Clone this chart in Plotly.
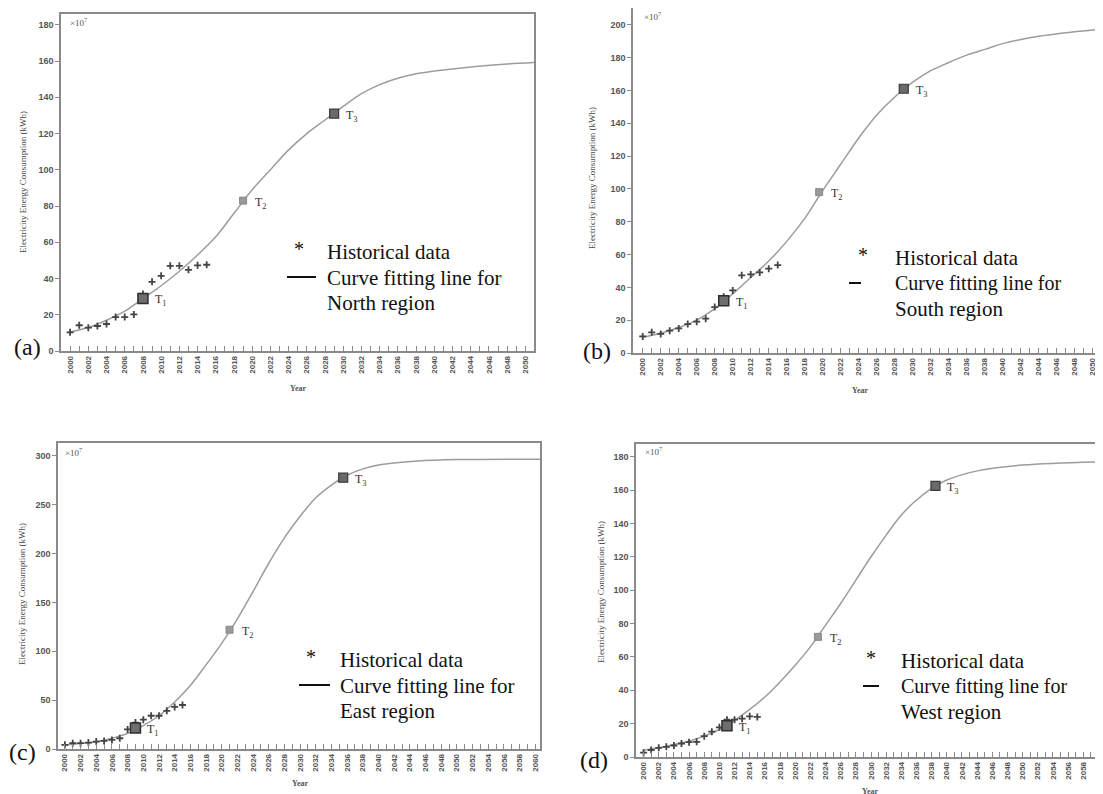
import plotly.graph_objects as go

W, H = 1103, 794
OFF = 8  # default page body margin: the figure starts 8px right and down

# ---------------- data ----------------
hist_years = list(range(2000, 2016))

hist_a = [10.3, 14.2, 12.9, 13.8, 14.9, 18.7, 18.7, 20.2, 31.4, 38.2, 41.5, 47.0, 47.0, 44.8, 47.3, 47.6]
hist_b = [10.1, 12.6, 11.6, 13.6, 15.0, 17.6, 19.1, 20.9, 28.0, 34.3, 38.1, 47.3, 47.9, 49.1, 51.4, 53.6]
hist_c = [4.3, 6.0, 6.0, 6.6, 7.6, 8.3, 9.3, 11.0, 20.0, 27.0, 30.0, 34.0, 34.0, 39.0, 43.0, 45.0]
hist_d = [2.6, 4.2, 5.5, 6.1, 6.9, 8.1, 8.9, 9.1, 12.5, 15.2, 17.8, 22.4, 22.4, 23.0, 24.4, 24.0]

curve_years_a = [1999.8, 2002, 2004, 2006, 2008, 2010, 2012, 2014, 2016, 2018, 2020, 2022, 2024, 2026,
                 2028, 2030, 2032, 2034, 2036, 2038, 2040, 2044, 2048, 2050.95]
curve_a = [10.3, 13.0, 17.0, 22.0, 29.0, 36.0, 44.0, 53.0, 63.0, 76.0, 89.0, 100.0, 111.0, 120.0,
           127.5, 135.0, 142.0, 147.0, 150.5, 153.0, 154.5, 156.8, 158.4, 159.2]

curve_years_b = [1999.9, 2002, 2004, 2006, 2008, 2010, 2012, 2014, 2016, 2018, 2020, 2022, 2024, 2026,
                 2028, 2030, 2032, 2034, 2036, 2038, 2040, 2044, 2050.25]
curve_b = [9.5, 12.0, 15.5, 20.0, 27.0, 36.0, 46.0, 56.0, 68.0, 82.0, 99.0, 115.0, 131.0, 145.0,
           156.0, 165.0, 172.0, 177.0, 181.5, 185.0, 188.5, 193.0, 197.0]

curve_years_c = [1999.9, 2002, 2004, 2006, 2008, 2010, 2012, 2014, 2016, 2018, 2020, 2022, 2024, 2026,
                 2028, 2030, 2032, 2034, 2036, 2038, 2040, 2045, 2050, 2060.6]
curve_c = [4.0, 5.5, 7.5, 11.0, 16.0, 24.0, 34.0, 48.0, 65.0, 86.0, 108.0, 133.0, 161.0, 190.0,
           216.0, 238.0, 257.0, 270.0, 280.0, 286.5, 290.5, 294.5, 296.0, 296.5]

curve_years_d = [1999.9, 2002, 2004, 2006, 2008, 2010, 2012, 2014, 2016, 2018, 2020, 2022, 2024, 2026,
                 2028, 2030, 2032, 2034, 2036, 2038, 2040, 2044, 2050, 2060.6]
curve_d = [4.0, 5.5, 7.5, 9.5, 12.5, 16.5, 22.0, 28.5, 36.0, 45.0, 55.0, 66.0, 79.0, 92.0,
           106.0, 120.0, 133.0, 145.0, 154.0, 161.0, 166.0, 171.5, 175.0, 177.0]

t_labels = ["1", "2", "3"]
t_years_a = [2008, 2019, 2029]
t_vals_a = [29.0, 83.0, 131.0]
t_years_b = [2009, 2019.6, 2029]
t_vals_b = [31.9, 98.0, 161.0]
t_years_c = [2009, 2021, 2035.5]
t_vals_c = [21.5, 122.0, 277.5]
t_years_d = [2011, 2023, 2038.5]
t_vals_d = [18.8, 72.0, 162.5]

y_ticks_a = [0, 20, 40, 60, 80, 100, 120, 140, 160, 180]
y_ticks_b = [0, 20, 40, 60, 80, 100, 120, 140, 160, 180, 200]
y_ticks_c = [0, 50, 100, 150, 200, 250, 300]
y_ticks_d = [0, 20, 40, 60, 80, 100, 120, 140, 160, 180]

regions = ["North", "South", "East", "West"]
panel_tags = ["(a)", "(b)", "(c)", "(d)"]

# ---------------- layout geometry (pixels in the page) ----------------
panels = [
    dict(px=(61, 534), py=(14, 351), xr=(1999.0, 2050.95), yr=(0, 186), xmax=2050),
    dict(px=(633, 1095), py=(8, 353), xr=(1998.92, 2050.25), yr=(0, 210.2), xmax=2050),
    dict(px=(58, 540), py=(443, 749), xr=(1999.12, 2060.6), yr=(0, 313), xmax=2060),
    dict(px=(636, 1103), py=(444, 757), xr=(1999.0, 2060.6), yr=(0, 187.6), xmax=2060),
]

hist_all = [hist_a, hist_b, hist_c, hist_d]
cy_all = [curve_years_a, curve_years_b, curve_years_c, curve_years_d]
cv_all = [curve_a, curve_b, curve_c, curve_d]
ty_all = [t_years_a, t_years_b, t_years_c, t_years_d]
tv_all = [t_vals_a, t_vals_b, t_vals_c, t_vals_d]
yt_all = [y_ticks_a, y_ticks_b, y_ticks_c, y_ticks_d]

FW, FH = W - OFF, H - OFF

def fx(p):
    return (p - OFF) / FW

def fy(p):
    return 1 - (p - OFF) / FH

AX = "#8a8a8a"
XTICKFONT = dict(family="Liberation Sans, Arial", size=8, color="#555555", weight="bold")
YTICKFONT = dict(family="Liberation Sans, Arial", size=9, color="#555555", weight="bold")
SERIF = "Liberation Serif, Times New Roman, serif"

fig = go.Figure()
layout = dict(
    width=FW, height=FH, margin=dict(l=0, r=0, t=0, b=0, autoexpand=False),
    paper_bgcolor="white", plot_bgcolor="white", showlegend=False,
)
annotations = []
shapes = []

t_styles = [
    dict(size=10, color="#6e6e6e", line=dict(color="#2e2e2e", width=1.5)),
    dict(size=7, color="#9a9a9a", line=dict(color="#8a8a8a", width=1)),
    dict(size=9, color="#6a6a6a", line=dict(color="#3a3a3a", width=1.2)),
]

legend_pos = [
    dict(sx=299, tx=325, y1=252, lx=(287, 316)),
    dict(sx=863, tx=893, y1=258, lx=(849, 861)),
    dict(sx=311, tx=338, y1=660, lx=(299, 330)),
    dict(sx=871, tx=899, y1=661, lx=(863, 879)),
]
tag_pos = [(27, 347), (597, 351), (22, 752), (594, 760)]
year_pos = [(298, 388), (860, 391), (300, 783), (870, 791)]
ytitle_pos = [(23, 182), (592, 178), (22, 594), (601, 592)]
x10_pos = [(68, 22), (642, 16), (63, 452), (643, 451)]

for i, p in enumerate(panels):
    n = "" if i == 0 else str(i + 1)
    xa, ya = "x" + n, "y" + n
    xticks = list(range(2000, p["xmax"] + 1, 2))
    layout["xaxis" + n] = dict(
        domain=[fx(p["px"][0]), min(1.0, fx(p["px"][1]))], range=list(p["xr"]), anchor=ya,
        automargin=False, ticklabeloverflow="allow",
        showline=True, linecolor=AX, linewidth=1.5, mirror=True,
        showgrid=False, zeroline=False,
        tickmode="array", tickvals=xticks, ticktext=[str(v) for v in xticks],
        ticks="inside", ticklen=5, tickcolor=AX, tickwidth=1,
        minor=dict(tickmode="linear", tick0=2001, dtick=2, ticks="inside", ticklen=5, tickcolor=AX, tickwidth=1),
        tickangle=-90, tickfont=XTICKFONT,
    )
    layout["yaxis" + n] = dict(
        domain=[max(0.0, fy(p["py"][1])), min(1.0, fy(p["py"][0]))], range=list(p["yr"]), anchor=xa,
        automargin=False, ticklabeloverflow="allow",
        showline=True, linecolor=AX, linewidth=1.5, mirror=True,
        showgrid=False, zeroline=False,
        tickmode="array", tickvals=yt_all[i], ticktext=[str(v) for v in yt_all[i]],
        ticks="outside", ticklen=4, tickcolor=AX, tickwidth=1,
        tickfont=YTICKFONT,
    )

    # fitted curve
    fig.add_trace(go.Scatter(
        x=cy_all[i], y=cv_all[i], mode="lines", xaxis=xa, yaxis=ya,
        line=dict(color="#9c9c9c", width=1.5, shape="spline", smoothing=1.0),
        hoverinfo="skip",
    ))
    # historical data
    fig.add_trace(go.Scatter(
        x=hist_years, y=hist_all[i], mode="markers", xaxis=xa, yaxis=ya,
        marker=dict(symbol="cross-thin", size=5, line=dict(color="#444444", width=1.8)),
        hoverinfo="skip",
    ))
    # turning points
    for k in range(3):
        fig.add_trace(go.Scatter(
            x=[ty_all[i][k]], y=[tv_all[i][k]], mode="markers", xaxis=xa, yaxis=ya,
            marker=dict(symbol="square", **t_styles[k]),
            hoverinfo="skip",
        ))
        annotations.append(dict(
            x=ty_all[i][k], y=tv_all[i][k], xref=xa, yref=ya, xanchor="left", yanchor="middle",
            xshift=10, yshift=-2, showarrow=False,
            text="T<sub>" + t_labels[k] + "</sub>",
            font=dict(family=SERIF, size=12, color="#333333"),
        ))

    annotations.append(dict(
        x=fx(x10_pos[i][0]), y=fy(x10_pos[i][1]), xref="paper", yref="paper",
        xanchor="left", yanchor="middle", showarrow=False,
        text="\u00d710<sup>7</sup>", font=dict(family=SERIF, size=9, color="#555555"),
    ))
    annotations.append(dict(
        x=fx(ytitle_pos[i][0]), y=fy(ytitle_pos[i][1]), xref="paper", yref="paper",
        xanchor="center", yanchor="middle", showarrow=False, textangle=-90,
        text="Electricity Energy Consumption (kWh)",
        font=dict(family=SERIF, size=9, color="#444444"),
    ))
    annotations.append(dict(
        x=fx(year_pos[i][0]), y=fy(year_pos[i][1]), xref="paper", yref="paper",
        xanchor="center", yanchor="middle", showarrow=False,
        text="<b>Year</b>", font=dict(family=SERIF, size=8, color="#555555"),
    ))
    annotations.append(dict(
        x=fx(tag_pos[i][0]), y=fy(tag_pos[i][1]), xref="paper", yref="paper",
        xanchor="center", yanchor="middle", showarrow=False,
        text=panel_tags[i], font=dict(family=SERIF, size=24, color="#111111"),
    ))
    lg = legend_pos[i]
    annotations.append(dict(
        x=fx(lg["sx"]), y=fy(lg["y1"] - 3), xref="paper", yref="paper",
        xanchor="center", yanchor="middle", showarrow=False,
        text="*", font=dict(family=SERIF, size=20, color="#111111"),
    ))
    rows = ["Historical data", "Curve fitting line for", regions[i] + " region"]
    for r, txt in enumerate(rows):
        size = 20 if (r == 1 and i in (1, 3)) else 21
        annotations.append(dict(
            x=fx(lg["tx"]), y=fy(lg["y1"] + 25.5 * r), xref="paper", yref="paper",
            xanchor="left", yanchor="middle", showarrow=False,
            text=txt, font=dict(family=SERIF, size=size, color="#111111"),
        ))
    shapes.append(dict(
        type="line", xref="paper", yref="paper",
        x0=fx(lg["lx"][0]), x1=fx(lg["lx"][1]),
        y0=fy(lg["y1"] + 25), y1=fy(lg["y1"] + 25),
        line=dict(color="#111111", width=2),
    ))

layout["annotations"] = annotations
layout["shapes"] = shapes
fig.update_layout(**layout)

fig.write_html("out.html")
